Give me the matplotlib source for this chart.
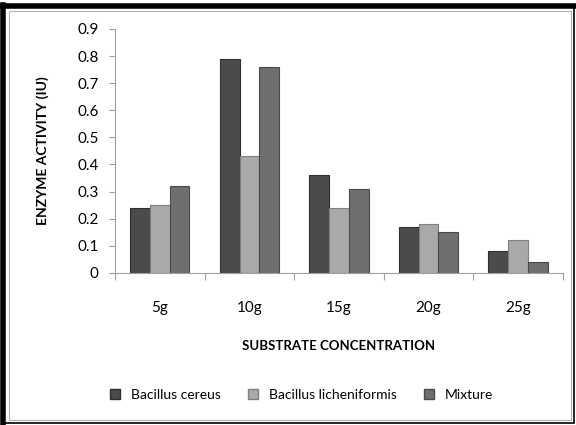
import numpy as np
import matplotlib
matplotlib.use('Agg')
import matplotlib.pyplot as plt
from matplotlib.lines import Line2D

plt.rcParams['font.family'] = ['Lato', 'DejaVu Sans']

categories = ['5g', '10g', '15g', '20g', '25g']
series = ['Bacillus cereus', 'Bacillus licheniformis', 'Mixture']
cereus = [0.24, 0.79, 0.36, 0.17, 0.08]
licheniformis = [0.25, 0.43, 0.24, 0.18, 0.12]
mixture = [0.32, 0.76, 0.31, 0.15, 0.04]
yticks = [0, 0.1, 0.2, 0.3, 0.4, 0.5, 0.6, 0.7, 0.8, 0.9]

colors = ['#4b4b4b', '#a9a9a9', '#6f6f6f']
edges = ['#2e2e2e', '#7f7f7f', '#4a4a4a']

fig = plt.figure(figsize=(5.76, 4.25), dpi=100)
ax = fig.add_axes([0.2, 0.358, 0.777, 0.574])

x = np.arange(len(categories))
w = 0.22
for i, vals in enumerate([cereus, licheniformis, mixture]):
    ax.bar(x + (i - 1) * w, vals, w, color=colors[i], edgecolor=edges[i],
           linewidth=0.8, label=series[i], zorder=2)

ax.set_xlim(-0.5, len(categories) - 0.5)
ax.set_ylim(0, 0.9)
ax.set_yticks(yticks)
ax.set_yticklabels(['0'] + [f'{v:.1f}' for v in yticks[1:]], fontsize=11)
ax.set_xticks(np.arange(len(categories) + 1) - 0.5, minor=False)
ax.set_xticklabels([])
ax.set_xticks(x, minor=True)
ax.set_xticklabels(categories, minor=True, fontsize=11)
ax.tick_params(axis='x', which='minor', length=0, pad=20)
ax.tick_params(axis='x', which='major', length=5, color='#a0a0a0')
ax.tick_params(axis='y', length=4, color='#a0a0a0', pad=8)
for s in ['top', 'right']:
    ax.spines[s].set_visible(False)
for s in ['left', 'bottom']:
    ax.spines[s].set_color('#a0a0a0')

ax.set_xlabel('SUBSTRATE CONCENTRATION', fontsize=9.5, fontweight='bold', labelpad=18)
ax.set_ylabel('ENZYME ACTIVITY (IU)', fontsize=10, fontweight='bold', labelpad=20)

handles = [Line2D([], [], marker='s', ls='none', markersize=7, markerfacecolor=colors[i],
                  markeredgecolor=edges[i]) for i in range(3)]
fig.legend(handles, series, loc='center', bbox_to_anchor=(0.516, 0.07), ncol=3,
           frameon=False, fontsize=10, handletextpad=0.15, columnspacing=1.3)

# outer frame: thick black on left/top, thin elsewhere, thin grey inner line
fig.add_artist(plt.Rectangle((0.003, 0.004), 0.994, 0.985, transform=fig.transFigure,
                             fill=False, edgecolor='black', linewidth=1.2))
fig.add_artist(Line2D([0.006, 0.006], [0.004, 0.989], transform=fig.transFigure,
                      color='black', linewidth=4))
fig.add_artist(Line2D([0.003, 0.997], [0.985, 0.985], transform=fig.transFigure,
                      color='black', linewidth=4))
fig.add_artist(plt.Rectangle((0.016, 0.012), 0.975, 0.962, transform=fig.transFigure,
                             fill=False, edgecolor='#b0b0b0', linewidth=0.8))

fig.savefig('out.png', dpi=100)
